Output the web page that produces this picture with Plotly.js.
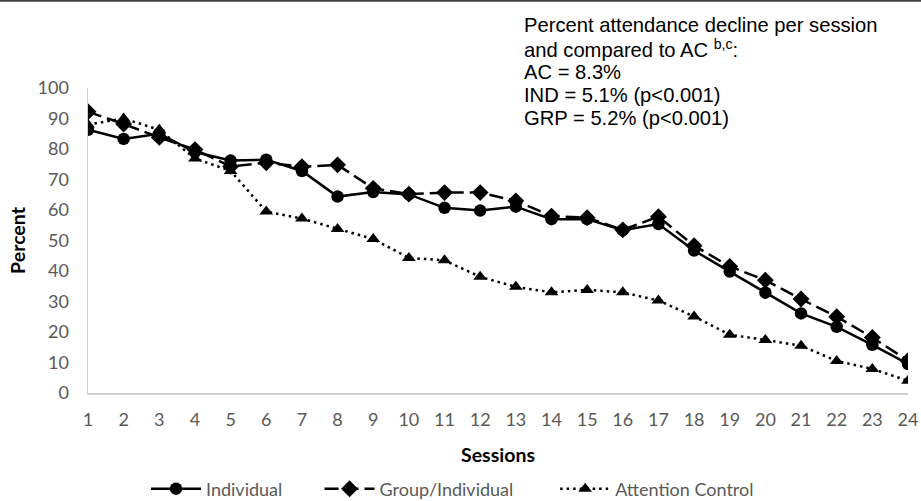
<!DOCTYPE html>
<html>
<head>
<meta charset="utf-8">
<script src="https://cdn.plot.ly/plotly-3.0.1.min.js"></script>
<style>html,body{margin:0;padding:0;background:#fff;}#chart{width:921px;height:501px;}</style>
</head>
<body>
<div id="chart"></div>
<script>
const sessions = [1,2,3,4,5,6,7,8,9,10,11,12,13,14,15,16,17,18,19,20,21,22,23,24];
const individual = [86.3,83.3,85,79,76.2,76.5,72.8,64.4,65.9,65.1,60.7,59.8,61.1,57.0,57.0,53.4,55.4,46.7,39.8,32.9,26.1,21.7,15.8,9.5];
const groupIndividual = [92.2,88.2,83.8,79.8,74.3,75.5,74.2,74.8,67.1,65.2,65.7,65.7,63.0,58.0,57.5,53.5,57.8,48.3,41.5,37.0,30.8,25.0,18.2,10.6];
const attentionControl = [88.0,90.0,86.3,76.9,72.8,59.5,57.2,53.8,50.5,44.3,43.5,38.1,34.8,33.0,33.8,33.0,30.3,25.1,19.1,17.4,15.5,10.5,7.9,4.0];
const seriesNames = ["Individual","Group/Individual","Attention Control"];
const yTicks = [0,10,20,30,40,50,60,70,80,90,100];
const annotationLines = ["Percent attendance decline per session","and compared to AC <sup>b,c</sup>:","AC = 8.3%","IND = 5.1% (p<0.001)","GRP = 5.2% (p<0.001)"];

// pad legend names with non-breaking spaces to widen the gap between entries
const pad = n => '\u00A0'.repeat(n);
const legendNames = [seriesNames[0] + pad(7), seriesNames[1] + pad(8), seriesNames[2]];

const traces = [
  {x: sessions, y: individual, name: legendNames[0], mode: 'lines+markers', type: 'scatter',
   line: {color: '#000', width: 2.5}, marker: {symbol: 'circle', size: 12.5, color: '#000'}},
  {x: sessions, y: groupIndividual, name: legendNames[1], mode: 'lines+markers', type: 'scatter',
   line: {color: '#000', width: 2.5, dash: '14px,6px'}, marker: {symbol: 'diamond', size: 13, color: '#000'}},
  {x: sessions, y: attentionControl, name: legendNames[2], mode: 'lines+markers', type: 'scatter',
   line: {color: '#000', width: 2.5, dash: '2.5px,4px'}, marker: {symbol: 'triangle-up', size: 12, color: '#000'}}
];

const fam = 'Lato, "Open Sans", sans-serif';
const tickFont = {family: fam, size: 18, color: '#595959'};
const W = 921, H = 501, L = 88, R = 13, T = 88, B = 108;
const pw = W - L - R, ph = H - T - B;
const annX = (522 - L) / pw;
const annotations = annotationLines.map((txt, i) => ({
  xref: 'paper', yref: 'paper', x: annX, y: (H - B - (25 + i * 23.3)) / ph,
  xanchor: 'left', yanchor: 'middle', align: 'left', showarrow: false, text: txt,
  font: {family: '"Liberation Sans", Arial, sans-serif', size: 20.2, color: '#000'}
}));

const layout = {
  width: W, height: H,
  margin: {l: L, r: R, t: T, b: B},
  paper_bgcolor: '#fff', plot_bgcolor: '#fff',
  showlegend: true,
  legend: {orientation: 'h', xref: 'container', yref: 'container', x: 146 / W, xanchor: 'left', y: (H - 489) / H, yanchor: 'middle',
           font: {family: fam, size: 18, color: '#595959'}, itemwidth: 50},
  xaxis: {range: [1, 24], tickvals: sessions, ticktext: sessions.map(String), showgrid: false, zeroline: false, automargin: false,
          showline: true, linecolor: '#d0d0d0', linewidth: 1.5, ticks: '', ticklabelstandoff: 10, tickfont: tickFont,
          title: {text: '<b>Sessions</b>', font: {family: fam, size: 19.5, color: '#000'}, standoff: 19}},
  yaxis: {range: [0, 100], tickvals: yTicks, showgrid: false, zeroline: false, automargin: false,
          showline: true, linecolor: '#d0d0d0', linewidth: 1.5, ticks: '', ticklabelstandoff: 14, tickfont: tickFont,
          title: {text: '<b>Percent</b>', font: {family: fam, size: 19.5, color: '#000'}, standoff: 6}},
  annotations: annotations,
  shapes: [{type: 'line', xref: 'paper', yref: 'paper', x0: -0.2, x1: 1.2, y0: (H - B - 0.8) / ph, y1: (H - B - 0.8) / ph,
            line: {color: '#404040', width: 2}}]
};
Plotly.newPlot('chart', traces, layout, {displayModeBar: false, staticPlot: true});
</script>
</body>
</html>
